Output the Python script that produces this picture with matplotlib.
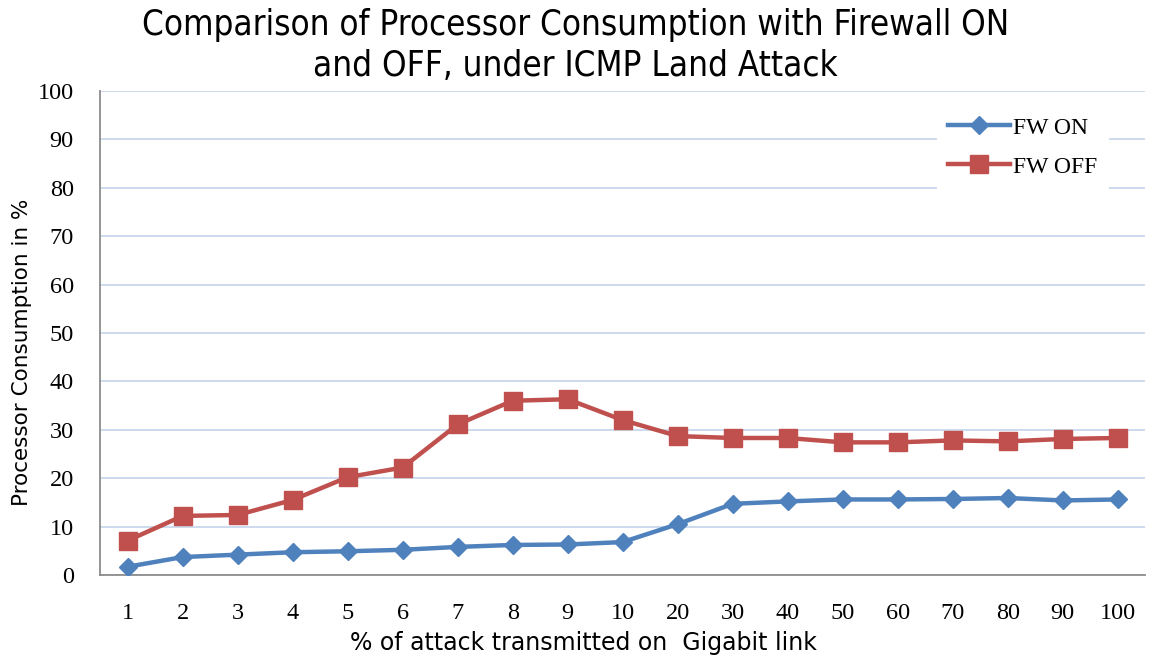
import matplotlib
matplotlib.use("Agg")
import matplotlib.pyplot as plt

# ---- данные ----------------------------------------------------------------
categories = ["1", "2", "3", "4", "5", "6", "7", "8", "9", "10",
              "20", "30", "40", "50", "60", "70", "80", "90", "100"]
fw_on = [1.7, 3.7, 4.2, 4.7, 4.9, 5.2, 5.8, 6.2, 6.3, 6.8,
         10.5, 14.7, 15.2, 15.6, 15.6, 15.7, 15.9, 15.4, 15.6]
fw_off = [7.1, 12.2, 12.4, 15.5, 20.2, 22.2, 31.1, 36.0, 36.3, 32.0,
          28.7, 28.3, 28.3, 27.4, 27.4, 27.8, 27.6, 28.1, 28.3]
y_ticks = [0, 10, 20, 30, 40, 50, 60, 70, 80, 90, 100]
# ---------------------------------------------------------------------------

fig = plt.figure(figsize=(11.51, 6.59), dpi=100)
ax = fig.add_axes([0.087, 0.1275, 0.908, 0.7345])

x = list(range(len(categories)))
ax.plot(x, fw_on, color="#4f81bd", linewidth=3.2, marker="D", markersize=9,
        label="FW ON", zorder=3)
ax.plot(x, fw_off, color="#c0504d", linewidth=3.2, marker="s", markersize=13,
        label="FW OFF", zorder=3)

ax.set_xlim(-0.5, len(categories) - 0.5)
ax.set_ylim(0, 100)
ax.set_yticks(y_ticks)
ax.set_xticks(x)
ax.set_xticklabels(categories)
ax.tick_params(axis="both", length=0, labelsize=17.5)
for lab in ax.get_xticklabels() + ax.get_yticklabels():
    lab.set_family("Liberation Serif")
ax.tick_params(axis="y", pad=19)
ax.tick_params(axis="x", pad=20)

ax.grid(axis="y", color="#c9d7ec", linewidth=1.3)
ax.set_axisbelow(True)
for side in ["top", "right"]:
    ax.spines[side].set_visible(False)
ax.spines["left"].set_color("#8c8c8c")
ax.spines["bottom"].set_color("#8c8c8c")
ax.spines["left"].set_linewidth(1.3)
ax.spines["bottom"].set_linewidth(1.3)

ax.set_xlabel("% of attack transmitted on  Gigabit link", fontsize=17,
              family="DejaVu Sans", labelpad=5)
ax.xaxis.label.set_x(0.462)
ax.set_ylabel("Processor Consumption in %", fontsize=15.5,
              family="DejaVu Sans", labelpad=4)
ax.yaxis.label.set_y(0.46)

fig.suptitle("Comparison of Processor Consumption with Firewall ON\nand OFF, under ICMP Land Attack",
             fontsize=25, family="DejaVu Sans", fontstretch="condensed",
             y=0.988, linespacing=1.28)

leg = ax.legend(loc="upper right", bbox_to_anchor=(0.977, 0.995),
                frameon=True, fancybox=False, edgecolor="none",
                framealpha=1.0, handlelength=2.6, handletextpad=0.15,
                borderpad=0.5, labelspacing=0.75,
                prop={"family": "Liberation Serif", "size": 17})

plt.savefig("out.png", dpi=100)
